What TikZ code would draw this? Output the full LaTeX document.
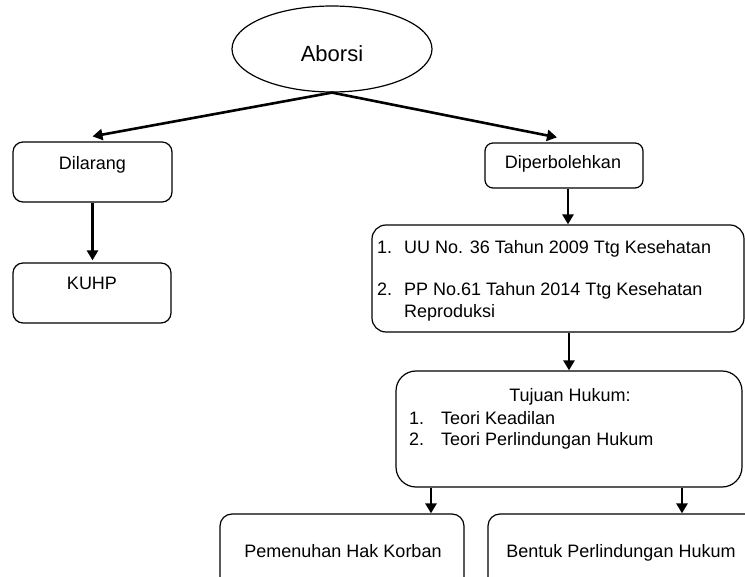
\documentclass[tikz,border=0pt]{standalone}
\usepackage{fontspec}
\setmainfont{Liberation Sans}
\usetikzlibrary{shapes.geometric,arrows.meta}
\begin{document}
\begin{tikzpicture}[x=1pt,y=-1pt,
  box/.style={draw=black,line width=1.2pt,rectangle,inner sep=0pt},
  txt/.style={font=\fontsize{18}{21}\selectfont,inner sep=0pt,anchor=base},
  ltxt/.style={txt,anchor=base west},
  arr/.style={line width=2.6pt,-{Triangle[width=11pt,length=10pt]}}]
\useasboundingbox (0,0) rectangle (745,577);
\clip (0,0) rectangle (745,577);

% shapes
\node[draw=black,line width=1.2pt,ellipse,minimum width=200pt,minimum height=86pt,inner sep=0pt] (ab) at (332,49) {};
\node[box,rounded corners=10pt,minimum width=159pt,minimum height=60pt] (dil) at (92.5,172) {};
\node[box,rounded corners=10pt,minimum width=158pt,minimum height=60pt] (kuhp) at (92,293) {};
\node[box,rounded corners=8pt,minimum width=158pt,minimum height=45pt] (dip) at (564,165.5) {};
\node[box,rounded corners=14pt,minimum width=372pt,minimum height=107pt] (list) at (558,278.5) {};
\node[box,rounded corners=20pt,minimum width=346pt,minimum height=116pt] (tuj) at (569,429) {};
\node[box,rounded corners=12pt,minimum width=244pt,minimum height=86pt] (bl) at (342,557) {};
\node[box,rounded corners=12pt,minimum width=282pt,minimum height=86pt] (br) at (629,557) {};

% texts
\node[txt,font=\fontsize{22}{26}\selectfont] (tab) at (332,62) {Aborsi};
\node[txt] (tdil) at (92.5,170) {Dilarang};
\node[txt] (tkuhp) at (92,290) {KUHP};
\node[txt] (tdip) at (563,169) {Diperbolehkan};
\node[ltxt] (n1) at (377,254) {1.};
\node[ltxt] (l1) at (404,254) {UU No. 36 Tahun 2009 Ttg Kesehatan};
\node[ltxt] (n2) at (377,296) {2.};
\node[ltxt] (l2) at (404,296) {PP No.61 Tahun 2014 Ttg Kesehatan};
\node[ltxt] (l3) at (404,318) {Reproduksi};
\node[txt] (ttuj) at (570,401.5) {Tujuan Hukum:};
\node[ltxt] (m1) at (409,425) {1.};
\node[ltxt] (k1) at (441,425) {Teori Keadilan};
\node[ltxt] (m2) at (409,446) {2.};
\node[ltxt] (k2) at (441,446) {Teori Perlindungan Hukum};
\node[txt] (tbl) at (343,557) {Pemenuhan Hak Korban};
\node[txt] (tbr) at (621,557) {Bentuk Perlindungan Hukum};

% connectors
\draw[arr] (ab.south) -- ([yshift=5pt]dil.north);
\draw[arr] (ab.south) -- ([xshift=-7pt,yshift=5pt]dip.north);
\draw[arr] (dil.south) -- ([yshift=2pt]dil.south |- kuhp.north);
\draw[arr] ([xshift=4pt]dip.south) -- ([xshift=4pt]dip.south |- list.north);
\draw[arr] (tuj.north |- list.south) -- (tuj.north);
\draw[arr] ([xshift=-138pt]tuj.south) -- ([xshift=-138pt]tuj.south |- bl.north);
\draw[arr] ([xshift=113pt]tuj.south) -- ([xshift=113pt]tuj.south |- br.north);
\end{tikzpicture}
\end{document}
